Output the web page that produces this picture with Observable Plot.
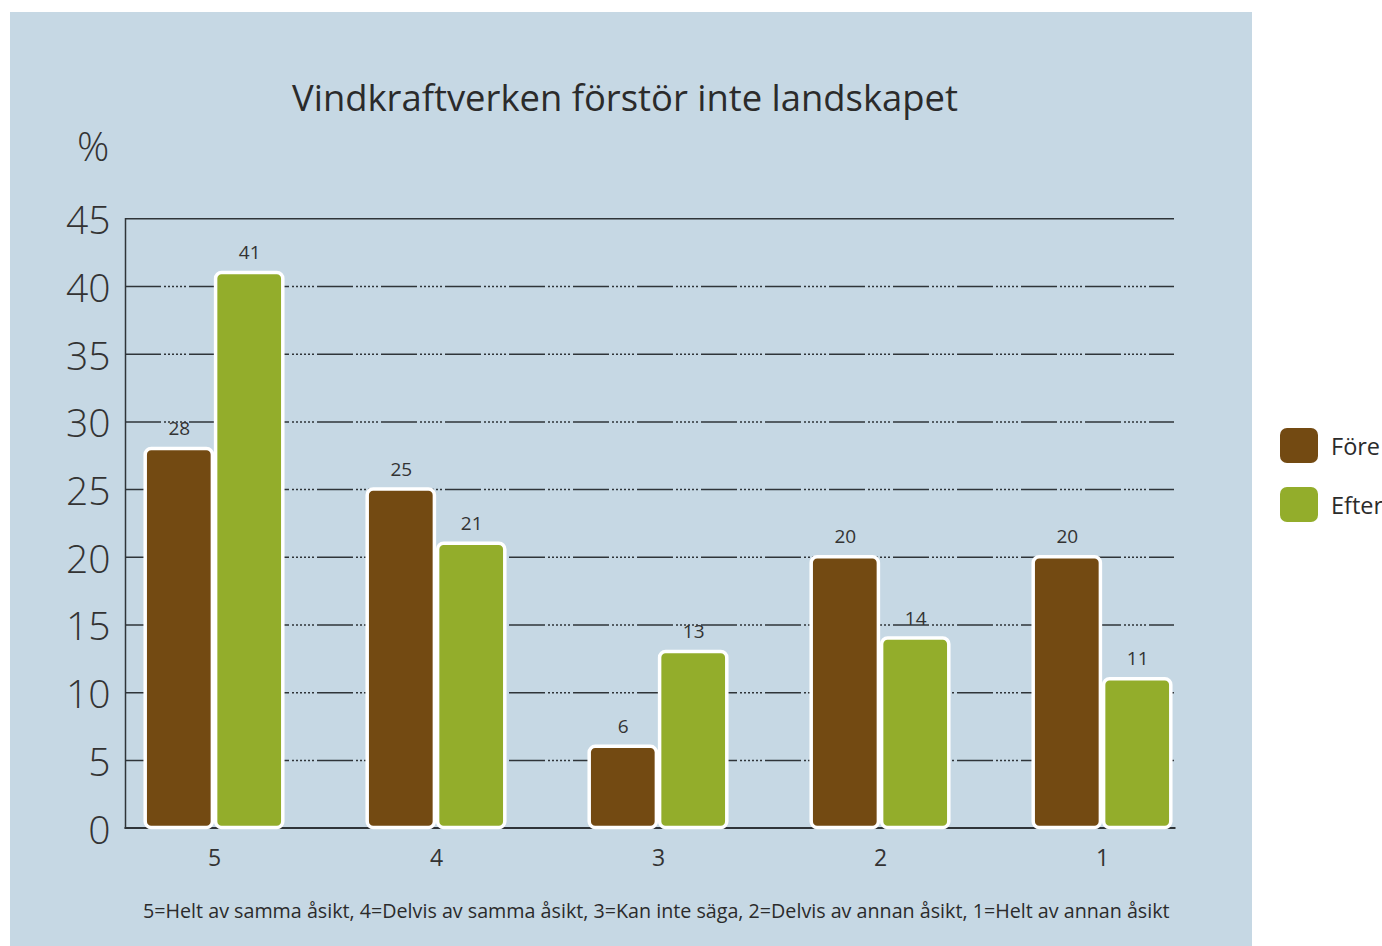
<!DOCTYPE html>
<html><head><meta charset="utf-8">
<script src="https://cdn.jsdelivr.net/npm/d3@7"></script>
<script src="https://cdn.jsdelivr.net/npm/@observablehq/plot@0.6"></script>
<style>
body{margin:0;background:#fff;font-family:"Open Sans",sans-serif;color:#333;}
#wrap{position:relative;width:1382px;height:946px;overflow:hidden;}
#panel{position:absolute;left:10px;top:12px;width:1242px;height:934px;background:#c6d8e4;}
#chart{position:absolute;left:0;top:0;}
#title{position:absolute;left:0;width:1250px;top:73px;text-align:center;font-size:36.4px;line-height:48px;color:#2b2b2b;}
#unit{position:absolute;left:77px;top:122px;font-size:40px;line-height:48px;font-weight:300;color:#333;}
#caption{position:absolute;left:143px;top:898px;font-size:19.7px;line-height:26px;color:#2b2b2b;white-space:nowrap;}
.sw{position:absolute;left:1280px;width:38px;height:35px;border-radius:7px;}
.lt{position:absolute;left:1331px;font-size:23.5px;line-height:30px;color:#2b2b2b;white-space:nowrap;}
</style></head>
<body>
<div id="wrap">
<div id="panel"></div>
<div id="title"></div>
<div id="unit">%</div>
<div id="chart"></div>
<div id="caption"></div>
<div id="legend"></div>
</div>
<script>
const title = "Vindkraftverken förstör inte landskapet";
const caption = "5=Helt av samma åsikt, 4=Delvis av samma åsikt, 3=Kan inte säga, 2=Delvis av annan åsikt, 1=Helt av annan åsikt";
const categories = ["5", "4", "3", "2", "1"];
const series = ["Före", "Efter"];
const fore = [28, 25, 6, 20, 20];
const efter = [41, 21, 13, 14, 11];
const yTicks = [0, 5, 10, 15, 20, 25, 30, 35, 40, 45];
const colors = ["#734a12", "#93ad2b"];

const foreData = categories.map((c, i) => ({cat: c, s: series[0], v: fore[i]}));
const efterData = categories.map((c, i) => ({cat: c, s: series[1], v: efter[i]}));

document.getElementById("title").textContent = title;
document.getElementById("caption").textContent = caption;

const dash = "36 3 2 2 2 2 2 2 2 2 2 2 2 3";
const lineColor = "#2f3438";

const plot = Plot.plot({
  width: 1382,
  height: 946,
  marginLeft: 125,
  marginRight: 208,
  marginTop: 218.3,
  marginBottom: 118.4,
  style: {background: "transparent", fontFamily: "'Open Sans', sans-serif", color: "#333"},
  x: {domain: categories, paddingInner: 0.35, paddingOuter: 0.0375, align: 1, label: null},
  y: {domain: [0, 45], ticks: yTicks, label: null},
  color: {domain: series, range: colors},
  marks: [
    Plot.ruleY(yTicks.filter(t => t > 0 && t < 45), {stroke: lineColor, strokeWidth: 1.5, strokeDasharray: dash}),
    Plot.ruleY([45], {stroke: lineColor, strokeWidth: 1.5}),
    Plot.frame({anchor: "left", stroke: lineColor, strokeWidth: 1.5}),
    Plot.frame({anchor: "bottom", stroke: lineColor, strokeWidth: 2}),
    Plot.axisY({ticks: yTicks, tickSize: 0, tickPadding: 15, fontSize: 39, fontWeight: 300, dy: 3, label: null, fill: "#333"}),
    Plot.axisX({tickSize: 0, tickPadding: 22, fontSize: 23, label: null, fill: "#333"}),
    Plot.barY(foreData, {x: "cat", y: "v", fill: "s", stroke: "white", strokeWidth: 3.5, rx: 6, insetLeft: 3.2, insetRight: 73.6}),
    Plot.barY(efterData, {x: "cat", y: "v", fill: "s", stroke: "white", strokeWidth: 3.5, rx: 6, insetLeft: 73.6, insetRight: 3.2}),
    Plot.text(foreData, {x: "cat", y: "v", text: d => String(d.v), dx: -35.2, dy: -20, fontSize: 19, fill: "#333"}),
    Plot.text(efterData, {x: "cat", y: "v", text: d => String(d.v), dx: 35.2, dy: -20, fontSize: 19, fill: "#333"})
  ]
});
document.getElementById("chart").appendChild(plot);

const legend = document.getElementById("legend");
series.forEach((s, i) => {
  const sw = document.createElement("div");
  sw.className = "sw";
  sw.style.top = (428 + i * 59) + "px";
  sw.style.background = colors[i];
  legend.appendChild(sw);
  const t = document.createElement("div");
  t.className = "lt";
  t.style.top = (431 + i * 59) + "px";
  t.textContent = s;
  legend.appendChild(t);
});
</script>
</body></html>
